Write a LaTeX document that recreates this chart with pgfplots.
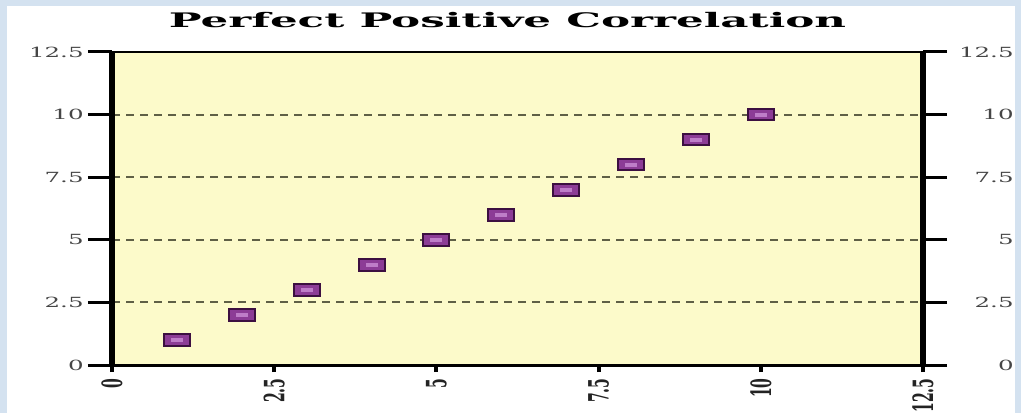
\documentclass[border=0pt]{standalone}
\usepackage{pgfplots}
\pgfplotsset{compat=1.18}
\usepackage{fontspec}
\setmainfont{DejaVu Serif}
\usepackage{graphicx}
\definecolor{bluebg}{RGB}{212,226,240}
\definecolor{plotbg}{RGB}{252,250,202}
\definecolor{gridc}{RGB}{95,95,70}
\definecolor{markfill}{RGB}{140,60,150}
\definecolor{markedge}{RGB}{60,15,65}
\definecolor{markin}{RGB}{190,125,200}
\definecolor{ylab}{RGB}{70,70,70}
\definecolor{xlab}{RGB}{35,35,35}
\newcommand\yl[1]{\scalebox{1.75}[1]{\fontsize{7}{8}\selectfont #1}}
\newcommand\xl[1]{\scalebox{2}[1]{\rotatebox{90}{\fontsize{7}{8}\selectfont\bfseries #1}}}
\pgfdeclareplotmark{prect}{\pgfpathrectangle{\pgfpoint{-6.5pt}{-2.9pt}}{\pgfpoint{13pt}{5.8pt}}\pgfusepathqfillstroke}
\pgfdeclareplotmark{prectin}{\pgfpathrectangle{\pgfpoint{-3pt}{-1pt}}{\pgfpoint{6pt}{2pt}}\pgfusepathqfill}
\begin{document}
\begin{tikzpicture}
\fill[bluebg] (0,0) rectangle (510.5pt,206.5pt);
\fill[white] (3.5pt,0) rectangle (507.5pt,203.5pt);
\node at (253.75pt,196.5pt) {\scalebox{2.18}[1]{\fontsize{10}{12}\selectfont\bfseries Perfect Positive Correlation}};
% main axis: y ticks both sides, left labels, grid, data
\begin{axis}[
  at={(56pt,24pt)}, anchor=south west,
  scale only axis, width=405.5pt, height=156.5pt,
  xmin=0, xmax=12.5, ymin=0, ymax=12.5,
  axis background/.style={fill=plotbg},
  axis line style={draw=none},
  xtick=\empty,
  ytick={0,2.5,5,7.5,10,12.5},
  yticklabels={\yl{0},\yl{2.5},\yl{5},\yl{7.5},\yl{10},\yl{12.5}},
  ytick pos=both, yticklabel pos=left,
  tick align=outside, major tick length=12pt,
  ytick style={line width=1.5pt, black},
  yticklabel style={anchor=east, inner sep=0pt, xshift=-2pt, text=ylab},
  ymajorgrids,
  grid style={dash pattern=on 4pt off 3pt, gridc, line width=1pt},
  clip=false,
]
\addplot[only marks, mark=prect, mark options={fill=markfill, draw=markedge, line width=1pt}]
  coordinates {(1,1) (2,2) (3,3) (4,4) (5,5) (6,6) (7,7) (8,8) (9,9) (10,10)};
\addplot[only marks, mark=prectin, mark options={fill=markin, draw=none}]
  coordinates {(1,1) (2,2) (3,3) (4,4) (5,5) (6,6) (7,7) (8,8) (9,9) (10,10)};
\draw[black, line width=1.5pt] (rel axis cs:0,0) -- (rel axis cs:1,0);
\draw[black, line width=1.3pt] (rel axis cs:0,1) -- (rel axis cs:1,1);
\draw[black, line width=3pt] (rel axis cs:0,0) -- (rel axis cs:0,1);
\draw[black, line width=3pt] (rel axis cs:1,0) -- (rel axis cs:1,1);
\end{axis}
% second axis: x ticks and right labels
\begin{axis}[
  at={(56pt,24pt)}, anchor=south west,
  scale only axis, width=405.5pt, height=156.5pt,
  xmin=0, xmax=12.5, ymin=0, ymax=12.5,
  axis line style={draw=none},
  xtick={0,2.5,5,7.5,10,12.5},
  xticklabels={\xl{0},\xl{2.5},\xl{5},\xl{7.5},\xl{10},\xl{12.5}},
  xtick pos=bottom,
  xtick style={line width=2pt, black},
  xticklabel style={anchor=north, inner sep=0pt, yshift=-3pt, text=xlab},
  tick align=outside, major tick length=3.5pt,
  ytick={0,2.5,5,7.5,10,12.5},
  yticklabels={\yl{0},\yl{2.5},\yl{5},\yl{7.5},\yl{10},\yl{12.5}},
  ytick pos=right, yticklabel pos=right,
  ytick style={draw=none},
  yticklabel style={anchor=east, inner sep=0pt, xshift=42pt, text=ylab},
]
\end{axis}
\pgfresetboundingbox
\path (0,0) rectangle (510.5pt,206.5pt);
\end{tikzpicture}
\end{document}
